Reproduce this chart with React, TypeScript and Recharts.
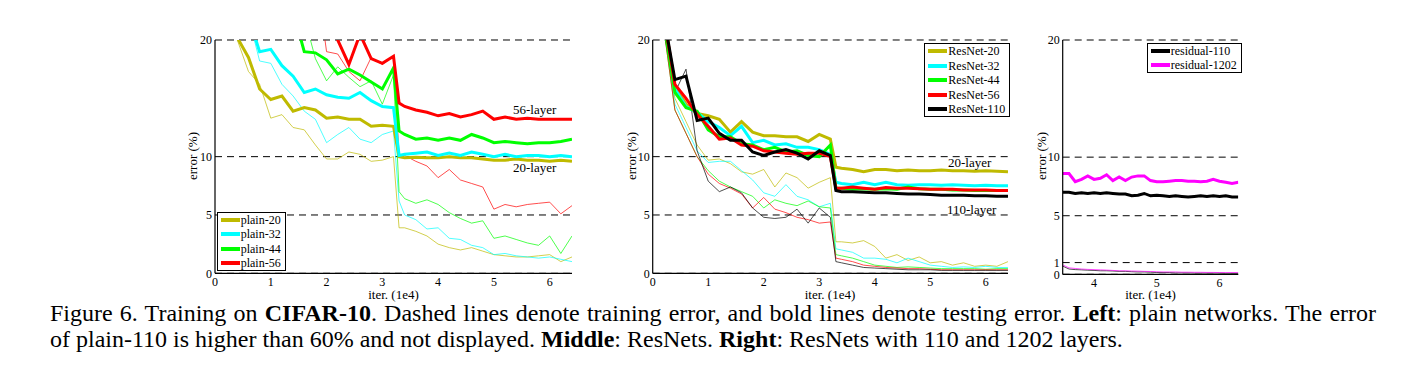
import React from "react";
import { LineChart, Line, XAxis, YAxis, CartesianGrid, Legend } from "recharts";

// ---------- data ----------
const ITER = [0.2, 0.4, 0.6, 0.8, 1.0, 1.2, 1.4, 1.6, 1.8, 2.0, 2.2, 2.4, 2.6, 2.8, 3.0, 3.2, 3.3, 3.4, 3.6, 3.8, 4.0, 4.2, 4.4, 4.6, 4.8, 5.0, 5.2, 5.4, 5.6, 5.8, 6.0, 6.2, 6.4];
const ITER_RIGHT = [3.5, 3.6, 3.7, 3.8, 3.9, 4.0, 4.1, 4.2, 4.3, 4.4, 4.5, 4.6, 4.7, 4.8, 4.9, 5.0, 5.1, 5.2, 5.3, 5.4, 5.5, 5.6, 5.7, 5.8, 5.9, 6.0, 6.1, 6.2, 6.3];

const X_TICKS = [0, 1, 2, 3, 4, 5, 6];
const X_TICKS_RIGHT = [4, 5, 6];
const Y_TICKS = [0, 5, 10, 20];
const Y_TICKS_RIGHT = [0, 1, 5, 10, 20];

// left: plain networks
const PLAIN20_TEST = [28, 20.2, 18.5, 15.8, 14.9, 15.2, 13.9, 14.2, 14.0, 13.3, 13.4, 13.2, 13.2, 12.6, 12.7, 12.6, 10.0, 9.9, 9.95, 9.9, 9.9, 10.0, 9.9, 9.9, 9.8, 9.7, 9.7, 9.8, 9.7, 9.7, 9.6, 9.7, 9.6];
const PLAIN32_TEST = [38, 28, 22, 19.0, 19.2, 17.8, 16.9, 15.5, 15.8, 15.3, 15.1, 15.0, 15.5, 14.8, 14.3, 14.2, 10.1, 10.2, 10.3, 10.4, 10.1, 10.3, 10.1, 10.4, 10.2, 10.0, 10.2, 10.0, 10.1, 10.1, 10.0, 10.1, 10.0];
const PLAIN44_TEST = [null, null, null, null, null, 30, 22.5, 19.0, 18.9, 18.3, 17.1, 17.5, 17.0, 16.4, 15.8, 17.6, 12.2, 11.9, 11.5, 11.6, 11.4, 11.6, 11.4, 11.9, 11.6, 11.2, 11.3, 11.2, 11.1, 11.2, 11.2, 11.3, 11.5];
const PLAIN56_TEST = [null, null, null, null, null, null, null, null, null, 26, 20.0, 17.9, 20.5, 18.4, 18.0, 18.6, 14.6, 14.3, 14.0, 13.8, 13.5, 13.7, 13.4, 13.6, 13.9, 13.2, 13.4, 13.2, 13.3, 13.2, 13.2, 13.2, 13.2];
const PLAIN20_TRAIN = [30, 20, 17.3, 16.2, 13.3, 13.6, 12.5, 12.3, 11.0, 9.8, 9.8, 10.4, 10.2, 9.6, 9.7, 10.0, 3.9, 3.9, 3.6, 3.2, 2.5, 2.2, 2.0, 2.2, 1.9, 1.6, 1.5, 1.4, 1.4, 1.5, 1.6, 1.0, 1.4];
const PLAIN32_TRAIN = [38, 28, 22, 18.2, 18.0, 16.2, 15.2, 13.9, 13.2, 11.2, 11.9, 12.5, 11.5, 11.2, 11.9, 12.2, 6.2, 5.0, 4.6, 3.8, 3.9, 3.0, 2.9, 2.4, 2.2, 1.6, 1.7, 1.5, 1.4, 1.3, 1.4, 1.2, 1.0];
const PLAIN44_TRAIN = [null, null, null, null, null, null, 30, 22, 18.4, 16.5, 17.7, 16.8, 16.0, 16.5, 14.5, 17.0, 7.0, 6.4, 6.0, 6.3, 5.9, 5.2, 4.7, 4.3, 4.5, 3.0, 3.2, 2.9, 2.6, 2.4, 3.2, 1.7, 3.2];
const PLAIN56_TRAIN = [null, null, null, null, null, null, null, null, 26, 19.0, 18.8, 17.3, 16.5, 18.5, 17.9, 18.6, 10.2, 10.1, 9.6, 9.2, 8.2, 8.9, 8.0, 7.7, 7.4, 5.5, 5.9, 5.7, 5.9, 6.0, 6.1, 5.1, 5.8];

// middle: ResNets
const RES20_TEST = [22, 16.0, 14.5, 13.7, 13.5, 13.2, 12.1, 13.0, 12.1, 11.8, 11.8, 11.7, 11.7, 11.3, 11.9, 11.5, 9.1, 9.0, 8.9, 8.7, 8.9, 8.9, 8.8, 8.85, 8.8, 8.8, 8.85, 8.8, 8.8, 8.75, 8.8, 8.75, 8.7];
const RES32_TEST = [22, 15.8, 14.3, 13.8, 13.0, 12.5, 11.8, 12.6, 11.2, 11.4, 11.0, 11.1, 10.8, 10.8, 10.6, 10.2, 7.8, 7.7, 7.6, 7.8, 7.6, 7.8, 7.6, 7.55, 7.6, 7.6, 7.55, 7.6, 7.55, 7.5, 7.55, 7.5, 7.5];
const RES44_TEST = [21.5, 15.5, 14.2, 13.9, 12.3, 11.7, 11.7, 11.1, 11.0, 10.6, 10.8, 10.4, 10.5, 10.1, 10.0, 11.0, 7.3, 7.3, 7.2, 7.25, 7.2, 7.25, 7.2, 7.4, 7.25, 7.2, 7.2, 7.15, 7.15, 7.1, 7.1, 7.1, 7.1];
const RES56_TEST = [22, 16.2, 15.0, 13.6, 12.6, 11.5, 11.6, 11.0, 10.9, 10.5, 10.4, 10.3, 10.2, 10.3, 10.3, 10.0, 7.3, 7.3, 7.4, 7.3, 7.2, 7.35, 7.3, 7.3, 7.25, 7.2, 7.2, 7.2, 7.15, 7.15, 7.15, 7.1, 7.1];
const RES110_TEST = [22, 16.6, 16.9, 13.1, 13.3, 12.0, 11.4, 11.4, 10.4, 10.1, 10.4, 10.6, 10.3, 9.8, 10.5, 10.1, 7.1, 7.0, 7.0, 6.95, 6.9, 6.9, 6.85, 6.8, 6.8, 6.75, 6.7, 6.7, 6.7, 6.65, 6.65, 6.6, 6.6];
const RES20_TRAIN = [21, 15.0, 13.0, 11.0, 9.7, 9.8, 9.4, 8.7, 8.5, 8.9, 7.4, 8.6, 8.2, 7.3, 7.8, 8.2, 2.7, 2.7, 2.6, 2.8, 2.3, 1.3, 1.6, 1.1, 1.4, 0.9, 1.0, 0.7, 0.9, 0.6, 0.7, 0.6, 1.0];
const RES32_TRAIN = [21, 14.5, 12.5, 10.5, 9.5, 9.6, 9.6, 8.8, 8.0, 6.9, 6.6, 7.6, 6.6, 6.3, 5.7, 6.0, 2.1, 2.0, 1.8, 1.3, 1.3, 1.2, 0.9, 1.3, 1.0, 0.7, 0.6, 0.5, 0.55, 0.5, 0.6, 0.5, 0.5];
const RES44_TRAIN = [21, 14.0, 12.0, 10.0, 8.8, 7.9, 7.4, 7.0, 6.6, 5.6, 6.3, 6.0, 5.8, 6.2, 5.7, 5.6, 1.6, 1.5, 1.3, 1.0, 0.7, 0.6, 0.5, 0.55, 0.5, 0.45, 0.4, 0.4, 0.4, 0.4, 0.35, 0.4, 0.4];
const RES56_TRAIN = [21, 14.0, 12.0, 10.0, 8.5, 7.7, 7.3, 6.8, 5.6, 6.5, 5.5, 5.2, 4.8, 4.6, 4.3, 4.4, 1.3, 1.2, 1.0, 0.7, 0.6, 0.5, 0.45, 0.4, 0.4, 0.35, 0.3, 0.3, 0.3, 0.3, 0.3, 0.3, 0.3];
const RES110_TRAIN = [21, 15.5, 17.5, 10.5, 7.9, 7.0, 7.4, 6.9, 5.6, 4.8, 4.7, 4.8, 5.5, 4.3, 5.6, 4.8, 1.0, 0.9, 0.7, 0.5, 0.45, 0.4, 0.35, 0.3, 0.3, 0.3, 0.25, 0.25, 0.25, 0.25, 0.25, 0.25, 0.25];

// right: 110 vs 1202 layers
const R110_TEST = [7.0, 7.0, 6.9, 6.95, 6.9, 6.95, 6.9, 6.95, 6.9, 6.85, 6.85, 6.7, 6.75, 6.9, 6.7, 6.75, 6.7, 6.65, 6.7, 6.65, 6.6, 6.65, 6.7, 6.65, 6.7, 6.65, 6.7, 6.6, 6.6];
const R1202_TEST = [8.6, 8.6, 7.9, 8.1, 8.4, 8.1, 8.2, 8.5, 8.0, 8.3, 8.0, 8.3, 8.4, 8.4, 8.0, 7.9, 7.9, 7.95, 8.0, 8.0, 7.95, 7.95, 7.9, 7.95, 8.1, 7.95, 7.85, 7.75, 7.85];
const R110_TRAIN = [0.7, 0.45, 0.4, 0.38, 0.35, 0.33, 0.3, 0.3, 0.28, 0.25, 0.25, 0.22, 0.2, 0.2, 0.18, 0.15, 0.15, 0.15, 0.12, 0.12, 0.12, 0.1, 0.1, 0.1, 0.1, 0.1, 0.08, 0.08, 0.08];
const R1202_TRAIN = [0.8, 0.55, 0.5, 0.45, 0.42, 0.4, 0.38, 0.36, 0.33, 0.3, 0.3, 0.28, 0.27, 0.25, 0.24, 0.22, 0.2, 0.2, 0.2, 0.18, 0.18, 0.17, 0.17, 0.16, 0.16, 0.15, 0.15, 0.15, 0.15];

const LEFT_NAMES = ["plain-20", "plain-32", "plain-44", "plain-56"];
const MID_NAMES = ["ResNet-20", "ResNet-32", "ResNet-44", "ResNet-56", "ResNet-110"];
const RIGHT_NAMES = ["residual-110", "residual-1202"];

// ---------- styles ----------
const OLIVE = "#BFBA00";
const CYAN = "#00FFFF";
const GREEN = "#00FF00";
const RED = "#FF0000";
const BLACK = "#000000";
const MAGENTA = "#FF00FF";
const FONT = "'Liberation Serif', 'Times New Roman', serif";

type S = { key: string; name: string; color: string; values: (number | null)[] };

const leftTrain: S[] = [
  { key: "p20tr", name: LEFT_NAMES[0], color: OLIVE, values: PLAIN20_TRAIN },
  { key: "p32tr", name: LEFT_NAMES[1], color: CYAN, values: PLAIN32_TRAIN },
  { key: "p44tr", name: LEFT_NAMES[2], color: GREEN, values: PLAIN44_TRAIN },
  { key: "p56tr", name: LEFT_NAMES[3], color: RED, values: PLAIN56_TRAIN },
];
const leftTest: S[] = [
  { key: "p20te", name: LEFT_NAMES[0], color: OLIVE, values: PLAIN20_TEST },
  { key: "p32te", name: LEFT_NAMES[1], color: CYAN, values: PLAIN32_TEST },
  { key: "p44te", name: LEFT_NAMES[2], color: GREEN, values: PLAIN44_TEST },
  { key: "p56te", name: LEFT_NAMES[3], color: RED, values: PLAIN56_TEST },
];
const midTrain: S[] = [
  { key: "r20tr", name: MID_NAMES[0], color: OLIVE, values: RES20_TRAIN },
  { key: "r32tr", name: MID_NAMES[1], color: CYAN, values: RES32_TRAIN },
  { key: "r44tr", name: MID_NAMES[2], color: GREEN, values: RES44_TRAIN },
  { key: "r56tr", name: MID_NAMES[3], color: RED, values: RES56_TRAIN },
  { key: "r110tr", name: MID_NAMES[4], color: BLACK, values: RES110_TRAIN },
];
const midTest: S[] = [
  { key: "r20te", name: MID_NAMES[0], color: OLIVE, values: RES20_TEST },
  { key: "r32te", name: MID_NAMES[1], color: CYAN, values: RES32_TEST },
  { key: "r44te", name: MID_NAMES[2], color: GREEN, values: RES44_TEST },
  { key: "r56te", name: MID_NAMES[3], color: RED, values: RES56_TEST },
  { key: "r110te", name: MID_NAMES[4], color: BLACK, values: RES110_TEST },
];
const rightTrain: S[] = [
  { key: "q110tr", name: RIGHT_NAMES[0], color: BLACK, values: R110_TRAIN },
  { key: "q1202tr", name: RIGHT_NAMES[1], color: MAGENTA, values: R1202_TRAIN },
];
const rightTest: S[] = [
  { key: "q110te", name: RIGHT_NAMES[0], color: BLACK, values: R110_TEST },
  { key: "q1202te", name: RIGHT_NAMES[1], color: MAGENTA, values: R1202_TEST },
];

function buildRows(xs: number[], series: S[]) {
  return xs.map((x, i) => {
    const row: any = { x };
    series.forEach((s) => (row[s.key] = s.values[i]));
    return row;
  });
}

const tickStyle = { fontSize: 12, fontFamily: FONT, fill: "#000" };

function LegendBox({ items }: { items: { name: string; color: string }[] }) {
  return (
    <div style={{ border: "1px solid #000", background: "#fff", padding: "0 4px 0 3px", fontFamily: FONT, boxSizing: "border-box" }}>
      {items.map((it) => (
        <div key={it.name} style={{ display: "flex", alignItems: "center", height: 14.4 }}>
          <span style={{ display: "inline-block", width: 19, height: 4, background: it.color }} />
          <span style={{ fontSize: 12, lineHeight: "12px", marginLeft: 1, color: "#000", whiteSpace: "nowrap" }}>{it.name}</span>
        </div>
      ))}
    </div>
  );
}

type PanelProps = {
  left: number;
  width: number;
  height: number;
  yWidth: number;
  xs: number[];
  xDomain: [number, number];
  xTicks: number[];
  yTicks: number[];
  train: S[];
  test: S[];
  legendPos: { left: number; top: number };
};

function Panel(p: PanelProps) {
  const data = buildRows(p.xs, [...p.train, ...p.test]);
  const items = p.test.map((s) => ({ name: s.name, color: s.color }));
  return (
    <div style={{ position: "absolute", left: p.left, top: 30 }}>
      <LineChart width={p.width} height={p.height} data={data} margin={{ top: 10, right: 10, bottom: 0, left: 0 }}>
        <CartesianGrid vertical={false} stroke="#000" strokeWidth={1} strokeDasharray="7 5" />
        <XAxis
          type="number"
          dataKey="x"
          domain={p.xDomain}
          ticks={p.xTicks}
          interval={0}
          allowDataOverflow
          height={30}
          tickLine={false}
          tickSize={0}
          tickMargin={4}
          axisLine={{ stroke: "#000", strokeWidth: 1.2 }}
          tick={tickStyle}
        />
        <YAxis
          type="number"
          domain={[0, 20]}
          ticks={p.yTicks}
          interval={0}
          allowDataOverflow
          width={p.yWidth}
          tickLine={false}
          tickSize={0}
          tickMargin={3}
          axisLine={{ stroke: "#000", strokeWidth: 1.2 }}
          tick={tickStyle}
        />
        <Legend
          layout="horizontal"
          verticalAlign="middle"
          align="center"
          wrapperStyle={{ left: p.legendPos.left, top: p.legendPos.top, width: "auto", height: "auto" }}
          content={() => <LegendBox items={items} />}
        />
        {p.train.map((s) => (
          <Line
            key={s.key}
            dataKey={s.key}
            name={s.name + " (train)"}
            stroke={s.color}
            strokeWidth={1}
            strokeOpacity={0.7}
            dot={false}
            activeDot={false}
            type="linear"
            isAnimationActive={false}
            legendType="none"
          />
        ))}
        {p.test.map((s) => (
          <Line
            key={s.key}
            dataKey={s.key}
            name={s.name}
            stroke={s.color}
            strokeWidth={3}
            dot={false}
            activeDot={false}
            type="linear"
            isAnimationActive={false}
          />
        ))}
      </LineChart>
    </div>
  );
}

export default function App() {
  return (
    <div style={{ position: "absolute", left: 0, top: 0, width: 1418, height: 366, background: "#fff", overflow: "hidden" }}>
      <Panel
        left={150}
        width={432}
        height={273.3}
        yWidth={65}
        xs={ITER}
        xDomain={[0, 6.4]}
        xTicks={X_TICKS}
        yTicks={Y_TICKS}
        train={leftTrain}
        test={leftTest}
        legendPos={{ left: 66.7, top: 181.7 }}
      />
      <Panel
        left={590}
        width={428}
        height={273.3}
        yWidth={62.7}
        xs={ITER}
        xDomain={[0, 6.4]}
        xTicks={X_TICKS}
        yTicks={Y_TICKS}
        train={midTrain}
        test={midTest}
        legendPos={{ left: 334.3, top: 13.3 }}
      />
      <Panel
        left={1000}
        width={248.3}
        height={274.3}
        yWidth={62.7}
        xs={ITER_RIGHT}
        xDomain={[3.5, 6.3]}
        xTicks={X_TICKS_RIGHT}
        yTicks={Y_TICKS_RIGHT}
        train={rightTrain}
        test={rightTest}
        legendPos={{ left: 146.7, top: 12.7 }}
      />
      <svg width={1418} height={366} style={{ position: "absolute", left: 0, top: 0, pointerEvents: "none" }}>
        <g fontFamily={FONT} fill="#000">
          <text fontSize={13} transform="translate(197,156) rotate(-90)" textAnchor="middle">error (%)</text>
          <text fontSize={13} transform="translate(636,156) rotate(-90)" textAnchor="middle">error (%)</text>
          <text fontSize={13} transform="translate(1046,156) rotate(-90)" textAnchor="middle">error (%)</text>
          <text fontSize={13} x={393.5} y={299} textAnchor="middle">iter. (1e4)</text>
          <text fontSize={13} x={830} y={299} textAnchor="middle">iter. (1e4)</text>
          <text fontSize={13} x={1150.5} y={299} textAnchor="middle">iter. (1e4)</text>
          <text fontSize={13} x={513} y={114}>56-layer</text>
          <text fontSize={13} x={513} y={172}>20-layer</text>
          <text fontSize={13} x={948} y={167}>20-layer</text>
          <text fontSize={13} x={947} y={214}>110-layer</text>
        </g>
      </svg>
      <div style={{ position: "absolute", left: 50, top: 300, width: 1326, fontFamily: FONT, fontSize: 24, lineHeight: "26px", color: "#000", textAlign: "justify", textAlignLast: "justify", whiteSpace: "nowrap" as any }}>
        Figure 6. Training on <b>CIFAR-10</b>. Dashed lines denote training error, and bold lines denote testing error. <b>Left</b>: plain networks. The error
      </div>
      <div style={{ position: "absolute", left: 50, top: 326, fontFamily: FONT, fontSize: 24, lineHeight: "26px", color: "#000", whiteSpace: "nowrap" }}>
        of plain-110 is higher than 60% and not displayed. <b>Middle</b>: ResNets. <b>Right</b>: ResNets with 110 and 1202 layers.
      </div>
    </div>
  );
}
